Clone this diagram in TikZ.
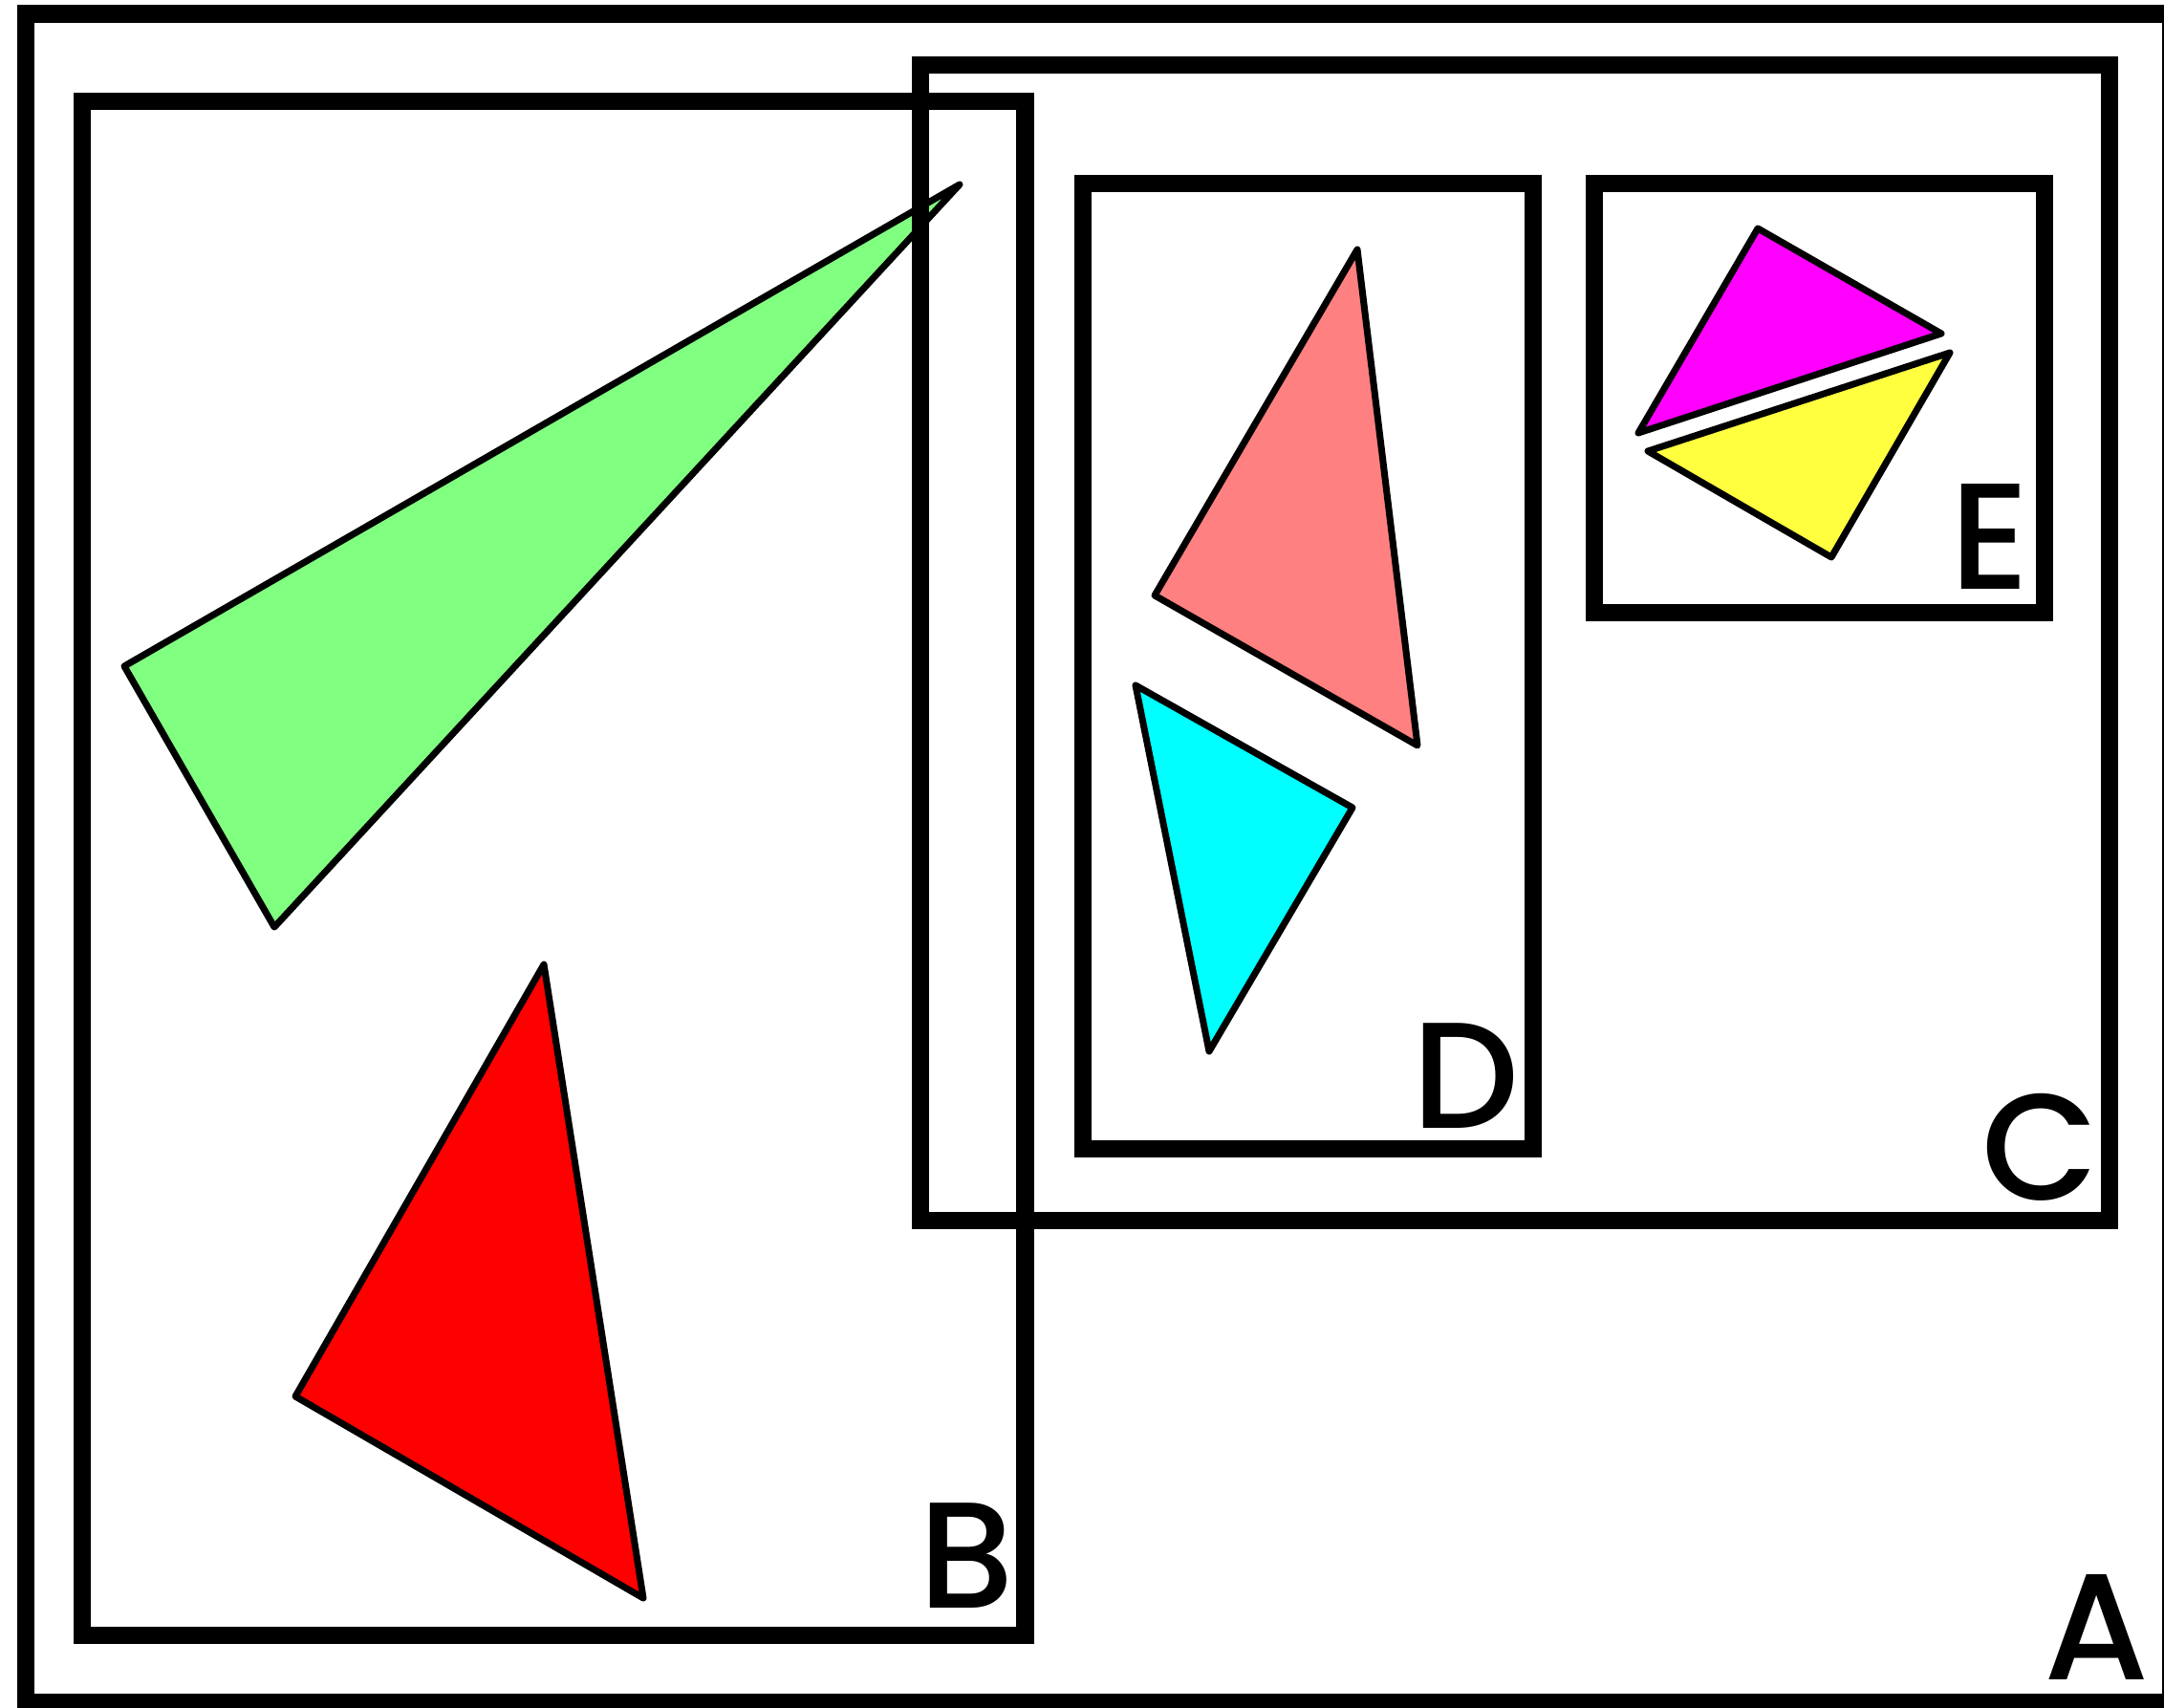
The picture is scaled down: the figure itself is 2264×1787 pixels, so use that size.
\documentclass[tikz,border=0pt]{standalone}
\usepackage{fontspec}
\setmainfont{Poppins}[UprightFont=* Medium]
\definecolor{cgreen}{HTML}{80FF80}
\definecolor{cred}{HTML}{FF0000}
\definecolor{csalmon}{HTML}{FF8080}
\definecolor{ccyan}{HTML}{00FFFF}
\definecolor{cmagenta}{HTML}{FF00FF}
\definecolor{cyellow}{HTML}{FFFF40}
\tikzset{
  frame/.style={draw=black, line width=18.5pt, line join=miter},
  tri/.style={draw=black, line width=7pt, line join=round},
  lbl/.style={anchor=base, inner sep=0pt, outer sep=0pt, text=black, font=\fontsize{158}{158}\selectfont}
}
\begin{document}
\begin{tikzpicture}[x=1pt,y=-1pt]
\useasboundingbox (0,0) rectangle (2264,1787);
\fill[white] (0,0) rectangle (2264,1787);
% A
\draw[frame] (27,14.7) rectangle (2271,1781);
% B
\draw[frame] (86,106) rectangle (1072.5,1711);
% green triangle
\draw[tri, fill=cgreen] (130,697) -- (1004,193) -- (287,970) -- cycle;
% red triangle
\draw[tri, fill=cred] (569,1009) -- (673,1672) -- (309,1461) -- cycle;
% C
\draw[frame] (963,68) rectangle (2207,1277);
% D
\draw[frame] (1133,192) rectangle (1604,1202);
% E
\draw[frame] (1668,192) rectangle (2139,641);
% triangles in D
\draw[tri, fill=csalmon] (1420,261) -- (1483,780) -- (1208,623) -- cycle;
\draw[tri, fill=ccyan] (1188,717) -- (1415,845) -- (1265,1100) -- cycle;
% triangles in E
\draw[tri, fill=cmagenta] (1839,239) -- (2031,349) -- (1714,453) -- cycle;
\draw[tri, fill=cyellow] (2040,369) -- (1916,583) -- (1724,472) -- cycle;
% labels
\node[lbl] (la) at (2194,1757) {A};
\node[lbl] (lb) at (1011,1682) {B};
\node[lbl] (lc) at (2135,1255) {C};
\node[lbl] (ld) at (1533,1180) {D};
\node[lbl] (le) at (2082,616) {E};
\end{tikzpicture}
\end{document}
